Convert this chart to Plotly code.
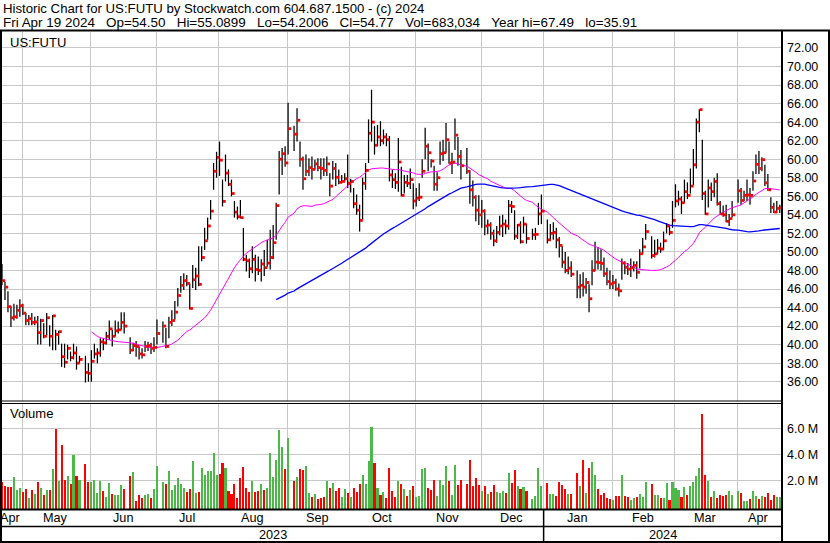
import numpy as np
import pandas as pd
import plotly.graph_objects as go

# ---------------- data ----------------
HEADER_1 = "Historic Chart for US:FUTU by Stockwatch.com 604.687.1500 - (c) 2024"
HEADER_FIELDS = ["Fri Apr 19 2024", "Op=54.50", "Hi=55.0899", "Lo=54.2006",
                 "Cl=54.77", "Vol=683,034", "Year hi=67.49", "lo=35.91"]
SYMBOL = "US:FUTU"
VOLUME_TITLE = "Volume"

FIRST_DAY = "2023-04-20"
LAST_DAY = "2024-04-19"
HOLIDAYS = ["2023-05-29", "2023-06-19", "2023-07-04", "2023-09-04", "2023-11-23",
            "2023-12-25", "2024-01-01", "2024-01-15", "2024-02-19", "2024-03-29"]

CLOSE = [
    46.9, 46.2, 44.1, 42.9, 43.0, 43.7, 44.2,
    43.4, 42.6, 42.8, 42.4, 42.45, 41.3, 42.6, 40.9, 42.9, 40.9, 43.1, 41.1, 41.4, 38.7, 38.1, 39.6, 38.6, 39.1, 38.0, 38.4, 37.0, 36.9,
    38.2, 39.0, 39.1, 40.3, 40.2, 40.9, 41.7, 40.9, 41.5, 41.6, 42.4, 42.0, 39.4, 39.9, 39.8, 39.0, 38.9, 39.8, 39.9, 39.6, 39.7,
    41.2, 42.0, 39.8, 42.4, 42.6, 43.5, 45.3, 46.4, 46.9, 46.6, 43.9, 47.0, 47.4, 46.5, 49.4, 51.2, 52.8, 54.4, 58.7, 60.2,
    59.9, 55.45, 58.5, 57.3, 56.3, 54.3, 53.8, 53.7, 49.2, 49.05, 48.2, 49.2, 48.1, 48.0, 48.7, 48.3, 48.8, 49.4, 51.0, 55.0, 60.0, 60.6, 59.6,
    63.3, 62.7, 64.2, 60.0, 57.9, 58.7, 59.1, 58.9, 59.5, 59.1, 59.0, 58.8, 59.5, 57.1, 59.0, 58.05, 57.5, 57.6, 57.9, 57.4,
    57.6, 55.2, 54.5, 53.4, 57.4, 58.8, 62.8, 64.0, 61.5, 62.4, 62.0, 62.4, 62.1, 58.3, 57.8, 57.5, 59.7, 56.1, 57.5, 57.4, 57.8, 55.5,
    55.8, 55.9, 58.7, 61.4, 60.7, 59.8, 57.3, 58.0, 60.6, 60.7, 62.1, 59.6, 59.7, 62.6, 60.3, 59.3, 58.7, 56.7, 55.9, 54.5, 54.0,
    54.4, 52.8, 52.9, 52.0, 51.2, 52.1, 52.8, 53.0, 52.8, 55.0, 54.9, 51.7, 52.9, 51.1, 53.0, 51.45, 51.85, 51.9, 54.1, 54.4,
    51.3, 52.0, 52.1, 51.3, 50.7, 48.9, 48.0, 48.25, 47.6, 46.2, 46.4, 46.2, 46.7, 44.95, 48.0, 48.9, 48.85, 48.75, 47.65, 46.8, 46.55,
    46.7, 46.0, 45.8, 48.8, 48.35, 48.15, 48.3, 48.55, 47.8, 49.8, 50.55, 52.2, 49.6, 49.8, 50.4, 50.3, 51.2, 52.8, 52.1, 53.4,
    55.5, 55.7, 55.3, 56.5, 56.1, 57.1, 59.4, 64.0, 65.35, 56.3, 54.1, 56.9, 56.5, 57.6, 55.2, 54.1, 54.0, 53.3, 53.6, 54.0,
    56.6, 55.55, 56.1, 56.15, 56.1, 57.65, 59.45, 59.0, 59.95, 57.45, 56.7, 54.8, 54.3, 54.7, 54.77,
]
HIGH = [
    48.7, 46.75, 45.75, 44.1, 44.4, 44.3, 44.9,
    44.4, 43.4, 43.2, 43.4, 43.0, 43.1, 42.8, 42.3, 43.4, 42.1, 43.2, 41.6, 41.5, 40.1, 40.1, 40.0, 39.25, 40.1, 39.8, 38.8, 38.8, 38.0,
    39.4, 40.1, 39.6, 40.7, 40.7, 41.4, 42.6, 41.6, 42.6, 42.5, 43.5, 43.5, 40.8, 40.2, 40.4, 39.8, 39.6, 40.4, 40.3, 40.2, 40.8,
    42.7, 42.5, 41.8, 43.0, 43.7, 44.7, 46.1, 47.4, 47.7, 47.5, 46.6, 48.6, 48.3, 50.6, 50.6, 52.6, 53.7, 55.6, 59.6, 60.8,
    61.9, 57.8, 60.5, 58.9, 57.8, 55.5, 54.9, 55.6, 52.6, 49.7, 49.3, 50.6, 49.7, 49.5, 49.2, 50.2, 51.3, 52.4, 52.9, 55.3, 60.9, 61.2, 61.4,
    66.1, 63.6, 65.5, 61.9, 60.3, 60.5, 60.1, 60.3, 59.95, 60.1, 60.1, 60.1, 60.3, 58.5, 59.8, 59.6, 58.9, 58.3, 58.5, 60.5,
    57.9, 56.9, 56.2, 55.1, 58.0, 59.6, 64.3, 67.49, 63.6, 63.7, 64.1, 63.2, 62.8, 62.5, 58.9, 58.5, 62.3, 59.2, 58.3, 58.3, 59.0, 57.4,
    56.9, 57.4, 60.0, 63.4, 61.7, 60.0, 59.3, 58.6, 61.9, 62.1, 63.9, 61.9, 60.7, 64.4, 62.4, 61.0, 61.2, 58.8, 57.7, 56.1, 56.1,
    55.6, 54.6, 53.5, 53.2, 52.4, 52.8, 53.9, 54.0, 53.5, 55.6, 55.5, 54.5, 53.0, 53.3, 53.8, 53.0, 52.5, 52.6, 55.3, 56.2,
    53.5, 53.0, 53.2, 52.6, 51.6, 50.6, 50.0, 49.5, 49.0, 48.0, 47.6, 47.8, 47.2, 46.5, 49.1, 51.1, 50.5, 50.3, 49.4, 48.3, 48.0,
    47.5, 47.1, 46.6, 49.3, 49.0, 48.8, 49.3, 49.0, 49.0, 50.3, 51.5, 53.0, 51.7, 51.3, 51.4, 51.0, 52.2, 53.1, 52.9, 55.5,
    57.3, 56.6, 56.0, 57.8, 57.5, 59.0, 61.1, 64.4, 65.4, 62.1, 56.6, 57.8, 57.5, 58.0, 58.5, 55.5, 55.0, 55.1, 54.1, 55.5,
    57.8, 56.9, 56.6, 57.8, 56.9, 58.7, 60.5, 60.9, 60.2, 59.4, 58.4, 55.9, 55.3, 55.5, 55.09,
]
LOW = [
    46.4, 44.8, 43.5, 41.9, 42.6, 42.8, 43.0,
    43.2, 42.1, 42.1, 42.1, 42.1, 40.0, 40.0, 40.7, 41.0, 39.8, 39.4, 39.4, 40.0, 37.6, 37.5, 38.4, 38.2, 38.4, 37.3, 38.0, 35.91, 36.0,
    36.0, 38.5, 38.0, 38.7, 39.4, 40.0, 40.5, 39.8, 40.9, 41.2, 41.6, 41.2, 39.0, 39.3, 38.7, 38.4, 38.5, 39.2, 39.3, 39.0, 39.2,
    40.0, 40.2, 39.6, 40.7, 42.0, 42.7, 44.1, 45.6, 45.9, 46.3, 43.8, 46.1, 45.9, 46.3, 49.0, 50.2, 51.3, 53.5, 56.7, 58.0,
    58.2, 54.9, 57.6, 57.1, 56.0, 53.7, 53.5, 53.6, 49.0, 47.9, 47.2, 47.7, 46.8, 47.5, 46.8, 47.4, 48.4, 48.1, 49.2, 51.3, 56.2, 58.3, 59.2,
    60.5, 60.9, 61.9, 59.2, 56.7, 58.2, 58.2, 57.8, 58.9, 58.7, 57.8, 58.2, 58.2, 56.0, 57.8, 57.1, 57.3, 57.4, 57.6, 56.9,
    56.4, 54.7, 54.0, 52.2, 53.5, 56.7, 59.6, 61.9, 60.5, 61.4, 61.4, 61.6, 61.4, 57.6, 56.9, 56.8, 56.5, 56.0, 56.3, 57.0, 56.8, 54.6,
    54.9, 55.5, 58.0, 60.0, 58.7, 59.1, 56.6, 56.6, 59.4, 59.8, 60.7, 59.5, 58.4, 61.0, 59.3, 57.8, 58.4, 55.2, 54.9, 53.3, 52.9,
    52.6, 51.8, 51.9, 51.3, 50.6, 51.0, 51.8, 51.6, 51.9, 52.4, 54.2, 51.3, 51.4, 50.9, 52.0, 50.9, 51.3, 51.3, 52.9, 53.0,
    50.9, 51.2, 51.3, 50.4, 49.4, 48.3, 47.7, 47.6, 47.3, 45.0, 45.0, 45.2, 45.5, 43.5, 46.4, 48.0, 48.1, 48.0, 47.3, 46.4, 46.0,
    46.0, 45.8, 45.2, 47.0, 47.6, 47.5, 47.3, 47.9, 47.1, 48.2, 49.8, 51.3, 49.3, 49.4, 49.8, 49.9, 50.2, 52.0, 51.8, 52.6,
    54.8, 55.0, 54.1, 55.3, 55.7, 56.3, 57.2, 59.0, 62.9, 55.6, 54.0, 54.8, 55.5, 55.9, 55.0, 54.0, 53.8, 53.2, 52.8, 53.7,
    55.3, 55.1, 55.5, 55.5, 55.1, 56.6, 58.4, 58.4, 58.7, 57.1, 56.6, 54.2, 54.2, 54.2, 54.20,
]
VOLUME_M = [
    1.9, 1.53, 1.46, 1.46, 2.23, 1.23, 1.43,
    1.07, 1.30, 0.61, 1.23, 0.92, 1.85, 1.43, 0.84, 1.23, 1.23, 2.90, 5.95, 1.92, 4.7, 2.0, 2.3, 1.69, 3.94, 2.3, 2.05, 3.24, 1.85,
    1.85, 2.0, 1.02, 1.92, 1.15, 0.68, 1.77, 0.92, 0.84, 0.86, 1.61, 1.30, 2.3, 2.62, 0.37, 0.84, 0.61, 0.84, 0.92, 0.61, 1.30,
    3.08, 1.85, 1.74, 2.70, 1.23, 1.61, 2.15, 1.69, 1.38, 1.07, 1.30, 3.47, 1.02, 1.07, 2.93, 2.39, 2.70, 2.70, 4.09, 2.39,
    2.46, 3.32, 2.93, 1.15, 0.92, 1.69, 0.61, 2.15, 3.0, 1.38, 1.07, 1.92, 1.07, 1.15, 1.69, 1.23, 1.38, 4.09, 2.23, 3.55, 5.92, 4.55, 2.85,
    5.25, 1.92, 2.23, 2.85, 2.77, 3.08, 0.99, 0.68, 0.92, 0.53, 0.61, 0.68, 1.92, 1.38, 1.77, 1.15, 1.38, 0.68, 1.30, 0.99,
    0.68, 1.38, 1.07, 1.69, 2.39, 1.69, 3.47, 6.1, 3.32, 1.38, 0.84, 1.07, 0.61, 2.93, 1.15, 0.68, 1.92, 1.69, 1.30, 0.76, 1.23, 1.53,
    0.71, 0.76, 2.85, 2.93, 1.38, 1.23, 2.0, 0.76, 2.0, 1.61, 3.08, 1.92, 0.84, 3.16, 1.61, 2.0, 1.69, 3.55, 1.53, 2.15, 1.61,
    1.15, 1.56, 0.92, 1.07, 1.61, 1.07, 0.99, 1.15, 0.99, 2.54, 1.77, 2.77, 1.53, 1.30, 1.46, 1.15, 0.53, 0.76, 2.93, 1.53,
    1.77, 0.92, 0.92, 0.76, 1.85, 1.61, 1.30, 0.92, 0.92, 2.54, 1.53, 3.55, 1.02, 2.93, 3.39, 2.39, 1.30, 0.84, 0.99, 0.61, 0.53,
    0.45, 0.76, 0.76, 2.39, 0.76, 0.68, 0.45, 0.61, 0.68, 0.92, 0.68, 1.85, 1.69, 0.84, 0.84, 0.61, 0.61, 1.77, 0.45, 1.85,
    1.38, 1.23, 0.71, 1.46, 0.90, 1.60, 1.90, 2.30, 2.93, 7.1, 2.39, 1.92, 0.68, 1.15, 0.61, 0.84, 0.76, 0.84, 1.15, 0.90,
    1.15, 0.99, 0.40, 0.40, 0.55, 1.15, 0.80, 0.55, 0.80, 0.75, 1.00, 0.45, 0.85, 0.70, 0.683,
]
PRICE_TICKS = list(range(36, 73, 2))
VOLUME_TICKS_M = [2, 4, 6]
MA_SHORT = 30
MA_LONG = 90

# ---------------- calendar (weekday axis, holidays leave gaps) ----------------
weekdays = pd.bdate_range(FIRST_DAY, LAST_DAY)
trade = weekdays[~weekdays.isin(pd.to_datetime(HOLIDAYS))]
pos = np.array([weekdays.get_loc(d) for d in trade], dtype=float)
assert len(pos) == len(CLOSE) == len(HIGH) == len(LOW) == len(VOLUME_M)

close = pd.Series(CLOSE, dtype=float)
ma_s = close.rolling(MA_SHORT).mean()
ma_l = close.rolling(MA_LONG).mean()

wk = pd.DataFrame({"d": weekdays, "i": np.arange(len(weekdays))})
wk["m"] = wk["d"].dt.to_period("M")
months = wk.groupby("m")["i"].agg(["min", "max"])
X0, X1 = 0.0, len(weekdays) - 0.26
grid_x = [m - 0.25 for m in months["min"].tolist()[1:]]
month_centers = ((months["min"] + months["max"]) / 2).tolist()
month_labels = [p.strftime("%b") for p in months.index]
years = wk.groupby(wk["d"].dt.year)["i"].agg(["min", "max"])
year_edges = [X0] + [v - 0.25 for v in years["min"].tolist()[1:]] + [X1]
year_centers = [(year_edges[k] + year_edges[k + 1]) / 2 for k in range(len(years))]
year_labels = [str(y) for y in years.index]

# ---------------- geometry ----------------
W, H = 830, 543
ML, MR, MT, MB = 2, 48, 32, 34
PW, PH = W - ML - MR, H - MT - MB
def PX(px):
    return (px - ML) / PW
def PY(py):
    return (H - MB - py) / PH

price_dom = [PY(401), 1.0]
vol_dom = [0.0, PY(403)]
p_per_px = 9.27
price_range = [36 - (401 - 381.7) / p_per_px, 36 + (381.7 - MT) / p_per_px]
v_px = 12.93
vol_floor = -(H - MB - 506.2) / v_px
vol_top = (506.2 - 403) / v_px

FONT = "Liberation Sans, Arial, sans-serif"
GRID = "#C8C8C8"
GREEN = "#4CB848"
RED = "#FF0000"

fig = go.Figure()

# HL bars
xs, ys = [], []
for p, h, l in zip(pos, HIGH, LOW):
    xs += [p, p, None]
    ys += [l, h, None]
fig.add_trace(go.Scatter(x=xs, y=ys, mode="lines", line=dict(color="black", width=1.25),
                         hoverinfo="skip", showlegend=False, xaxis="x", yaxis="y"))
# moving averages
fig.add_trace(go.Scatter(x=pos, y=ma_s, mode="lines", line=dict(color="#FF00FF", width=1),
                         hoverinfo="skip", showlegend=False, xaxis="x", yaxis="y"))
fig.add_trace(go.Scatter(x=pos, y=ma_l, mode="lines", line=dict(color="#0000FF", width=1.3),
                         hoverinfo="skip", showlegend=False, xaxis="x", yaxis="y"))
# close ticks
fig.add_trace(go.Scatter(x=pos + 0.6, y=CLOSE, mode="markers",
                         marker=dict(symbol="square", size=2.8, color=RED, line=dict(width=0)),
                         hoverinfo="skip", showlegend=False, xaxis="x", yaxis="y"))
# volume
vol = np.array(VOLUME_M)
up = np.concatenate([[False], np.diff(close.values) > 0])
vcolors = [GREEN if u else RED for u in up]
fig.add_trace(go.Bar(x=pos, y=vol - vol_floor, base=vol_floor, width=0.7,
                     marker=dict(color=vcolors, line=dict(width=0)),
                     hoverinfo="skip", showlegend=False, xaxis="x2", yaxis="y2"))

axis_common = dict(showline=False, zeroline=False, ticks="", fixedrange=True, automargin=False)
fig.update_layout(
    width=W, height=H, margin=dict(l=ML, r=MR, t=MT, b=MB, autoexpand=False),
    paper_bgcolor="white", plot_bgcolor="white", bargap=0, hovermode=False,
    font=dict(family=FONT, size=13, color="black"),
    xaxis=dict(domain=[0, 1], range=[X0, X1], tickvals=grid_x, showticklabels=False,
               showgrid=True, gridcolor=GRID, gridwidth=1, anchor="y", **axis_common),
    xaxis2=dict(domain=[0, 1], range=[X0, X1], tickvals=grid_x, showticklabels=False,
                showgrid=True, gridcolor=GRID, gridwidth=1, anchor="y2", matches="x", **axis_common),
    yaxis=dict(domain=price_dom, range=price_range, side="right", tickvals=PRICE_TICKS,
               ticktext=[f"{v:.2f}" for v in PRICE_TICKS], showgrid=True, gridcolor=GRID,
               tickfont=dict(family=FONT, size=12.5, color="black"), ticklabelstandoff=4,
               anchor="x", **axis_common),
    yaxis2=dict(domain=vol_dom, range=[vol_floor, vol_top], side="right",
                tickvals=VOLUME_TICKS_M, ticktext=[f"{v:.1f} M" for v in VOLUME_TICKS_M],
                showgrid=True, gridcolor=GRID, tickfont=dict(family=FONT, size=12.5, color="black"),
                ticklabelstandoff=4, anchor="x2", **axis_common),
)

# borders
def line(x0, y0, x1, y1, w=2):
    fig.add_shape(type="line", xref="paper", yref="paper", x0=PX(x0), y0=PY(y0), x1=PX(x1), y1=PY(y1),
                  line=dict(color="black", width=w), layer="above")
line(0, 30.5, 830, 30.5, 2)
line(1, 30, 1, 543, 2)
line(829, 30, 829, 543, 2)
line(0, 542, 830, 542, 2)
line(782, 30, 782, 543, 2)
line(0, 401, 782, 401, 1)
line(0, 403.5, 782, 403.5, 1)
line(0, 509.5, 782, 509.5, 2)
line(0, 526.5, 782, 526.5, 1.5)
jan_px = ML + (year_edges[1] - X0) / (X1 - X0) * PW
line(jan_px, 510, jan_px, 543, 1.5)

# texts
def ann(text, x, y, xref="paper", xanchor="left", size=13):
    fig.add_annotation(text=text, x=x, y=y, xref=xref, yref="paper", xanchor=xanchor,
                       yanchor="middle", showarrow=False, font=dict(family=FONT, size=size, color="black"))
ann(HEADER_1, PX(1), PY(8), size=13.2)
ann("\u00a0\u00a0\u00a0".join(HEADER_FIELDS), PX(1), PY(22), size=13.45)
ann(SYMBOL, PX(8), PY(42))
ann(VOLUME_TITLE, PX(8), PY(413))
for c, t in zip(month_centers, month_labels):
    ann(t, c, PY(518), xref="x", xanchor="center", size=12.7)
for c, t in zip(year_centers, year_labels):
    ann(t, c, PY(535), xref="x", xanchor="center", size=12.7)

fig.write_html("out.html", config={"displayModeBar": False},
               post_script="document.body.style.margin='0';document.body.style.overflow='hidden';")
